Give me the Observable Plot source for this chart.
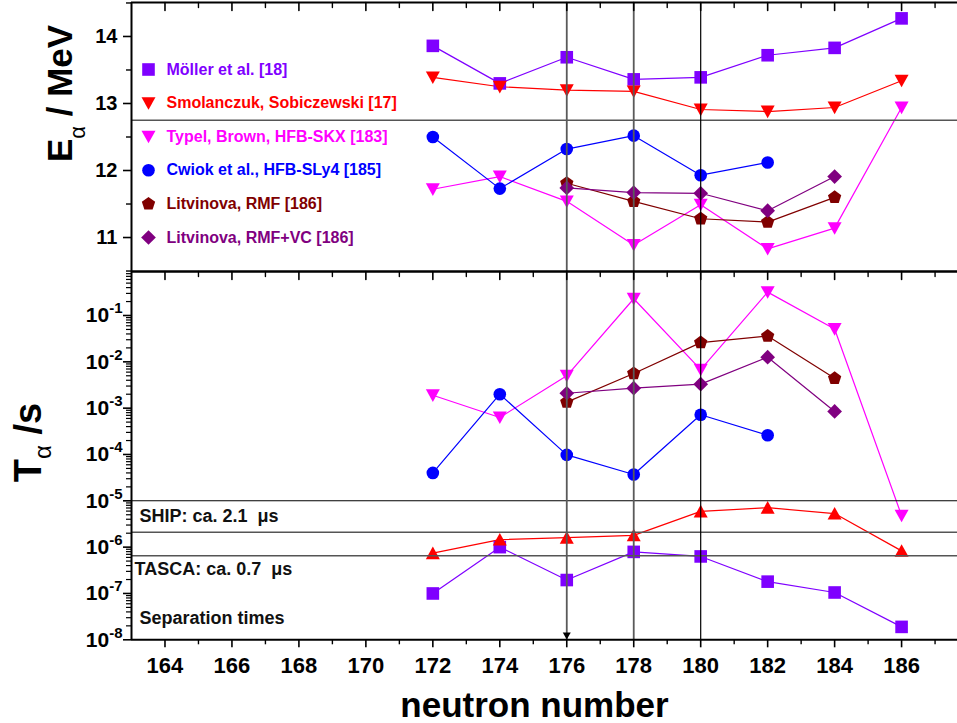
<!DOCTYPE html>
<html><head><meta charset="utf-8">
<script src="https://cdn.jsdelivr.net/npm/d3@7"></script>
<script src="https://cdn.jsdelivr.net/npm/@observablehq/plot@0.6"></script>
<style>
body{margin:0;background:#fff;}
#wrap{position:relative;width:957px;height:723px;overflow:hidden;}
#wrap svg{position:absolute;left:0;top:0;background:transparent;overflow:visible;}
</style></head><body><div id="wrap"></div>
<script>
// ---------- data ----------
const neutronNumbers = [172, 174, 176, 178, 180, 182, 184, 186];
const seriesNames = [
  "Möller et al. [18]",
  "Smolanczuk, Sobiczewski [17]",
  "Typel, Brown, HFB-SKX [183]",
  "Cwiok et al., HFB-SLy4 [185]",
  "Litvinova, RMF [186]",
  "Litvinova, RMF+VC [186]"
];
const seriesColors = ["#7f00ff", "#ff0000", "#ff00ff", "#0000ff", "#800000", "#800080"];

// E_alpha / MeV
const eMoller     = [13.86, 13.30, 13.69, 13.36, 13.39, 13.72, 13.83, 14.27];
const eSmolanczuk = [13.39, 13.25, 13.20, 13.18, 12.91, 12.88, 12.94, 13.34];
const eTypel      = [11.72, 11.91, 11.54, 10.89, 11.49, 10.83, 11.14, 12.94];
const eCwiok      = [12.50, 11.73, 12.32, 12.52, 11.93, 12.12, null, null];
const eRMF        = [null, null, 11.81, 11.54, 11.28, 11.23, 11.60, null];
const eRMFVC      = [null, null, 11.74, 11.67, 11.66, 11.40, 11.91, null];

// T_alpha / s
const tMoller     = [1.0e-7, 1.0e-6, 1.95e-7, 7.9e-7, 6.3e-7, 1.8e-7, 1.05e-7, 1.9e-8];
const tSmolanczuk = [7.4e-7, 1.45e-6, 1.6e-6, 1.8e-6, 5.9e-6, 7.1e-6, 5.3e-6, 8.3e-7];
const tTypel      = [1.9e-3, 6.3e-4, 5.0e-3, 0.23, 6.8e-3, 0.32, 0.051, 4.8e-6];
const tCwiok      = [4.0e-5, 2.0e-3, 9.8e-5, 3.7e-5, 7.2e-4, 2.6e-4, null, null];
const tRMF        = [null, null, 1.35e-3, 5.6e-3, 0.026, 0.036, 4.4e-3, null];
const tRMFVC      = [null, null, 2.1e-3, 2.7e-3, 3.3e-3, 0.0126, 8.5e-4, null];

const markedNeutrons = [176, 178, 180];
const eReferenceLine = [12.75];
const separationLines = [1.0e-5, 2.1e-6, 6.5e-7];
const separationLabels = ["SHIP: ca. 2.1\u00a0\u00a0μs", "TASCA: ca. 0.7\u00a0\u00a0μs", "Separation times"];

const xMajorTicks = [164, 166, 168, 170, 172, 174, 176, 178, 180, 182, 184, 186];
const xMinorTicks = [165, 167, 169, 171, 173, 175, 177, 179, 181, 183, 185, 187];
const eMajorTicks = [11, 12, 13, 14];
const eMinorTicks = [10.5, 11.5, 12.5, 13.5, 14.5];
const tMajorTicks = [1e-8, 1e-7, 1e-6, 1e-5, 1e-4, 1e-3, 1e-2, 1e-1];

// ---------- helpers ----------
const W = 957, H = 723;
const FONT = "'Liberation Sans', Arial, Helvetica, sans-serif";
const xDomain = [163, 187.67];
const eDomain = [10.493, 14.507];
const tDomain = [1e-8, 0.891];
const tMinorTicks = [];
for (let e = -8; e <= -1; e++) for (let m = 2; m <= 9; m++) {
  const v = m * Math.pow(10, e);
  if (v <= tDomain[1]) tMinorTicks.push(v);
}

function rows(arrays) {
  const out = [];
  arrays.forEach((arr, i) => arr.forEach((v, j) => {
    if (v != null) out.push({series: seriesNames[i], n: neutronNumbers[j], v});
  }));
  return out;
}
const eRows = rows([eMoller, eSmolanczuk, eTypel, eCwiok, eRMF, eRMFVC]);
const tRows = rows([tMoller, tSmolanczuk, tTypel, tCwiok, tRMF, tRMFVC]);

const rad = s => Math.sqrt(s / Math.PI);
const symSquare = {draw(c, s) { const h = 0.9 * rad(s); c.moveTo(-h, -h); c.lineTo(h, -h); c.lineTo(h, h); c.lineTo(-h, h); c.closePath(); }};
const symCircle = {draw(c, s) { const r = 0.9 * rad(s); c.moveTo(r, 0); c.arc(0, 0, r, 0, 2 * Math.PI); }};
const symTriDown = {draw(c, s) { const r = rad(s); c.moveTo(-r, -0.85 * r); c.lineTo(r, -0.85 * r); c.lineTo(0, 0.95 * r); c.closePath(); }};
const symTriUp = {draw(c, s) { const r = rad(s); c.moveTo(-r, 0.85 * r); c.lineTo(r, 0.85 * r); c.lineTo(0, -0.95 * r); c.closePath(); }};
const symPentagon = {draw(c, s) { const r = 1.0 * rad(s);
  for (let k = 0; k < 5; k++) { const a = -Math.PI / 2 + k * 2 * Math.PI / 5; const x = r * Math.cos(a), y = r * Math.sin(a); k ? c.lineTo(x, y) : c.moveTo(x, y); }
  c.closePath(); }};
const symDiamond = {draw(c, s) { const h = 1.05 * rad(s); c.moveTo(0, -h); c.lineTo(h, 0); c.lineTo(0, h); c.lineTo(-h, 0); c.closePath(); }};
const tickShape = {draw(c, l) { c.moveTo(0, 0); c.lineTo(0, -l); }};

const topSymbols = [symSquare, symTriDown, symTriDown, symCircle, symPentagon, symDiamond];
const bottomSymbols = [symSquare, symTriUp, symTriDown, symCircle, symPentagon, symDiamond];

const commonStyle = {fontFamily: FONT, fontWeight: "bold", background: "transparent", overflow: "visible", color: "black"};

function innerTicks() {
  return [
    Plot.vector(xMajorTicks, {x: d => d, frameAnchor: "top", length: 8, rotate: 180, anchor: "start", shape: tickShape, stroke: "black", strokeWidth: 1.6}),
    Plot.vector(xMinorTicks, {x: d => d, frameAnchor: "top", length: 5, rotate: 180, anchor: "start", shape: tickShape, stroke: "black", strokeWidth: 1.4})
  ];
}

// ---------- top panel ----------
const topPlot = Plot.plot({
  width: W, height: H,
  marginTop: 2, marginBottom: H - 271, marginLeft: 131, marginRight: 0,
  x: {domain: xDomain, axis: null},
  y: {domain: eDomain},
  color: {domain: seriesNames, range: seriesColors},
  symbol: {domain: seriesNames, range: topSymbols},
  style: commonStyle,
  marks: [
    Plot.line(eRows, {x: "n", y: "v", z: "series", stroke: "series", strokeWidth: 1.2}),
    Plot.dot(eRows, {x: "n", y: "v", symbol: "series", fill: "series", stroke: "none", r: 7}),
    Plot.ruleY(eReferenceLine, {stroke: "#555", strokeWidth: 1.5}),
    Plot.ruleX(markedNeutrons, {stroke: (d, i) => i < 2 ? "#5a5a5a" : "#000", strokeWidth: (d, i) => i < 2 ? 1.8 : 1.2}),
    // legend
    ...seriesNames.map((name, i) => Plot.dot([name], {frameAnchor: "top-left", dx: 17, dy: 67 + 33.6 * i, symbol: d => d, fill: d => d, stroke: "none", r: 7})),
    ...seriesNames.map((name, i) => Plot.text([name], {frameAnchor: "top-left", dx: 35, dy: 67 + 33.6 * i, text: d => d, fill: seriesColors[i], textAnchor: "start", lineAnchor: "middle", fontSize: 16, fontWeight: "bold"})),
    // axes
    Plot.axisY({ticks: eMajorTicks, tickSize: 8, tickPadding: 6, fontSize: 20, fontWeight: "bold", tickFormat: d => String(d), strokeWidth: 1.6, label: null}),
    Plot.axisY({ticks: eMinorTicks, tickSize: 5, tickFormat: () => "", strokeWidth: 1.4, label: null}),
    ...innerTicks(),
    Plot.ruleX([xDomain[0]], {stroke: "black", strokeWidth: 2}),
    Plot.ruleY([eDomain[1]], {stroke: "black", strokeWidth: 2}),
    Plot.ruleY([eDomain[0]], {stroke: "black", strokeWidth: 2}),
    Plot.text(["E"], {frameAnchor: "top-left", dx: -71, dy: 91, rotate: -90, textAnchor: "middle", lineAnchor: "middle", fontSize: 35, fontWeight: "bold", fill: "black", ariaLabel: "e-title"})
  ]
});

// ---------- bottom panel ----------
const bottomPlot = Plot.plot({
  width: W, height: H,
  marginTop: 271, marginBottom: H - 639.3, marginLeft: 131, marginRight: 0,
  x: {domain: xDomain},
  y: {type: "log", domain: tDomain},
  color: {domain: seriesNames, range: seriesColors},
  symbol: {domain: seriesNames, range: bottomSymbols},
  style: commonStyle,
  marks: [
    Plot.line(tRows, {x: "n", y: "v", z: "series", stroke: "series", strokeWidth: 1.2}),
    Plot.dot(tRows, {x: "n", y: "v", symbol: "series", fill: "series", stroke: "none", r: 7}),
    Plot.ruleY(separationLines, {stroke: (d, i) => i === 0 ? "#000" : "#555", strokeWidth: (d, i) => i === 0 ? 1.1 : 1.5}),
    Plot.ruleX(markedNeutrons, {stroke: (d, i) => i < 2 ? "#5a5a5a" : "#000", strokeWidth: (d, i) => i < 2 ? 1.8 : 1.2}),
    Plot.dot([markedNeutrons[0]], {x: d => d, y: tDomain[0], symbol: symTriDown, r: 4, dy: -4, fill: "black", stroke: "none"}),
    // separation annotations
    Plot.text([separationLabels[0]], {frameAnchor: "left", y: Math.sqrt(separationLines[0] * separationLines[1]), dx: 8, text: d => d, textAnchor: "start", lineAnchor: "middle", fontSize: 18, fill: "#111"}),
    Plot.text([separationLabels[1]], {frameAnchor: "left", y: separationLines[2], dy: 13, dx: 3, text: d => d, textAnchor: "start", lineAnchor: "middle", fontSize: 18, fill: "#111"}),
    Plot.text([separationLabels[2]], {frameAnchor: "bottom-left", dy: -22, dx: 8, text: d => d, textAnchor: "start", lineAnchor: "middle", fontSize: 18, fill: "#111"}),
    // axes
    Plot.axisY({ticks: tMajorTicks, tickSize: 8, tickPadding: 1, fontSize: 21, fontWeight: "bold", tickFormat: d => "10^" + Math.round(Math.log10(d)), strokeWidth: 1.6, label: null}),
    Plot.axisY({ticks: tMinorTicks, tickSize: 5, tickFormat: () => "", strokeWidth: 1.2, label: null}),
    Plot.axisX({ticks: xMajorTicks, tickSize: 8, tickPadding: 10, fontSize: 22, fontWeight: "bold", tickFormat: d => String(d), strokeWidth: 1.6, label: null}),
    Plot.axisX({ticks: xMinorTicks, tickSize: 5, tickFormat: () => "", strokeWidth: 1.4, label: null}),
    ...innerTicks(),
    Plot.ruleX([xDomain[0]], {stroke: "black", strokeWidth: 2}),
    Plot.ruleY([tDomain[0]], {stroke: "black", strokeWidth: 2}),
    Plot.ruleY([tDomain[1]], {stroke: "black", strokeWidth: 2}),
    Plot.text(["T"], {frameAnchor: "top-left", dx: -103, dy: 171, rotate: -90, textAnchor: "middle", lineAnchor: "middle", fontSize: 38, fontWeight: "bold", fill: "black", ariaLabel: "t-title"}),
    Plot.text(["neutron number"], {frameAnchor: "bottom", dx: -10, dy: 66, textAnchor: "middle", lineAnchor: "middle", fontSize: 35, fontWeight: "bold", fill: "black"})
  ]
});

const wrap = document.getElementById("wrap");
wrap.appendChild(topPlot);
wrap.appendChild(bottomPlot);

// superscript exponents on the log axis
const NS = "http://www.w3.org/2000/svg";
bottomPlot.querySelectorAll("text").forEach(t => {
  const s = t.textContent;
  if (s.startsWith("10^")) {
    t.textContent = "10";
    const sup = document.createElementNS(NS, "tspan");
    sup.setAttribute("font-size", "15");
    sup.setAttribute("dy", "-9");
    sup.textContent = s.slice(3);
    t.appendChild(sup);
  }
});
// subscript alpha in axis titles
function subTitle(svg, main, fontSize, rest, subSize, shift) {
  const t = Array.from(svg.querySelectorAll("text")).find(el => el.textContent === main && el.closest("g") && (el.getAttribute("transform") || el.closest("g").getAttribute("transform") || "").includes("rotate"));
  const target = t || Array.from(svg.querySelectorAll("text")).find(el => el.textContent === main);
  if (!target) return;
  const sub = document.createElementNS(NS, "tspan");
  sub.setAttribute("font-size", subSize);
  sub.setAttribute("font-weight", "normal");
  sub.setAttribute("dy", shift);
  sub.textContent = "α";
  target.appendChild(sub);
  const r = document.createElementNS(NS, "tspan");
  r.setAttribute("dy", -shift);
  r.textContent = rest;
  target.appendChild(r);
}
subTitle(topPlot, "E", 35, " / MeV", 22, 13);
subTitle(bottomPlot, "T", 38, " /s", 24, 10);
</script></body></html>
